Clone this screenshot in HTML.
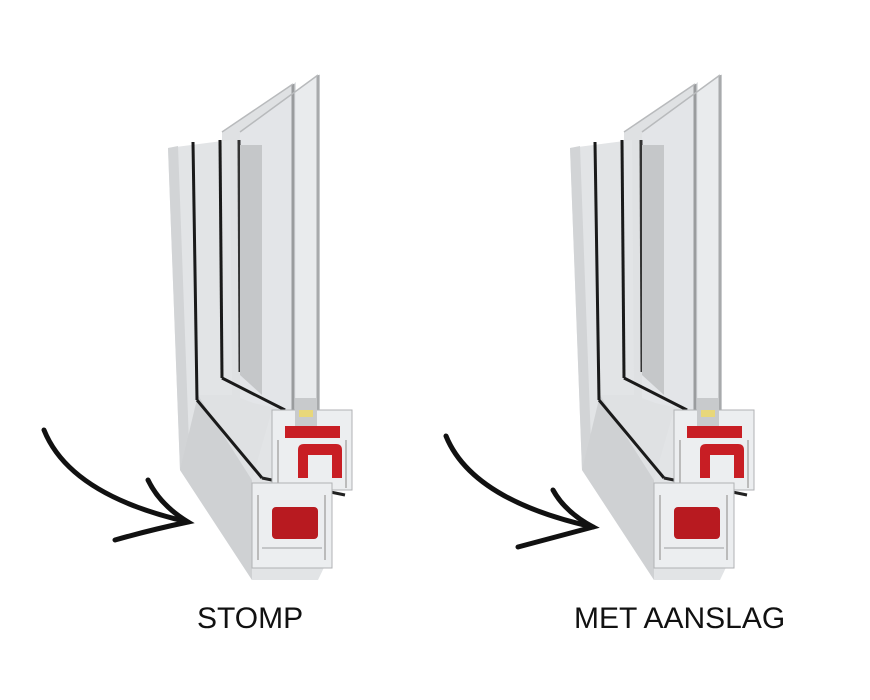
<!DOCTYPE html>
<html><head><style>
html,body{margin:0;padding:0;background:#fff;width:870px;height:700px;overflow:hidden}
.t{position:absolute;font-family:"Liberation Sans",sans-serif;font-size:30px;color:#111;top:602px}
</style></head><body>
<svg width="870" height="700" style="position:absolute;left:0;top:0">
<defs>
<g id="win">
  <polygon points="222,132 296,82 296,418 222,395" fill="#dcdee0" opacity="0.9"/>
  <polygon points="240,132 320,74 320,418 240,400" fill="#e4e6e8" opacity="0.8"/>
  <line x1="293" y1="84" x2="293" y2="418" stroke="#9a9c9e" stroke-width="3"/>
  <line x1="318" y1="75" x2="318" y2="418" stroke="#a8aaac" stroke-width="3"/>
  <line x1="222" y1="132" x2="293" y2="84" stroke="#b8babc" stroke-width="1.5"/>
  <line x1="240" y1="132" x2="318" y2="75" stroke="#b8babc" stroke-width="1.5"/>
  <polygon points="168,148 230,140 232,395 272,410 352,410 352,490 330,490 330,555 318,580 252,580 180,470" fill="#e2e4e6"/>
  <polygon points="168,148 178,146 190,470 180,470" fill="#d2d4d6"/>
  <polygon points="180,470 252,580 252,480 198,395" fill="#cfd1d3"/>
  <polygon points="198,395 232,395 272,410 252,480" fill="#dfe1e3"/>
  <line x1="193" y1="142" x2="197" y2="400" stroke="#1a1a1a" stroke-width="3"/>
  <line x1="197" y1="400" x2="262" y2="478" stroke="#1a1a1a" stroke-width="3"/>
  <line x1="220" y1="140" x2="222" y2="378" stroke="#1a1a1a" stroke-width="3"/>
  <line x1="239" y1="140" x2="240" y2="372" stroke="#333" stroke-width="3"/>
  <line x1="222" y1="378" x2="285" y2="410" stroke="#1a1a1a" stroke-width="3"/>
  <polygon points="240,145 262,145 262,395 240,375" fill="#c5c7c9"/>
  <line x1="262" y1="478" x2="345" y2="495" stroke="#222" stroke-width="3"/>
  <rect x="272" y="410" width="80" height="80" fill="#eceef0" stroke="#b0b2b4"/>
  <rect x="295" y="398" width="22" height="30" fill="#c8cacc"/>
  <rect x="299" y="410" width="14" height="7" fill="#e8d77a"/>
  <rect x="285" y="426" width="55" height="12" fill="#c81e24"/>
  <path d="M298,478 V450 Q298,444 304,444 H336 Q342,444 342,450 V478 H332 V455 H308 V478 Z" fill="#c81e24"/>
  <line x1="278" y1="440" x2="278" y2="488" stroke="#bbb" stroke-width="2"/>
  <line x1="346" y1="440" x2="346" y2="488" stroke="#bbb" stroke-width="2"/>
  <rect x="252" y="483" width="80" height="85" fill="#eceef0" stroke="#b0b2b4"/>
  <rect x="272" y="507" width="46" height="32" rx="4" fill="#b81a20"/>
  <line x1="258" y1="495" x2="258" y2="560" stroke="#bbb" stroke-width="2"/>
  <line x1="325" y1="495" x2="325" y2="560" stroke="#bbb" stroke-width="2"/>
  <line x1="262" y1="548" x2="322" y2="548" stroke="#c4c6c8" stroke-width="2"/>
</g>
</defs>
<use href="#win"/>
<use href="#win" transform="translate(402,0)"/>
<g fill="none" stroke="#111" stroke-width="5" stroke-linecap="round">
  <path d="M44,430 Q70,495 188,522"/>
  <path d="M148,480 Q160,505 188,522 Q150,530 115,540"/>
  <path d="M446,436 Q472,500 593,527"/>
  <path d="M553,490 Q565,512 593,527 Q555,537 518,547"/>
</g>
</svg>
<div class="t" style="left:197px">STOMP</div>
<div class="t" style="left:574px">MET AANSLAG</div>
</body></html>
